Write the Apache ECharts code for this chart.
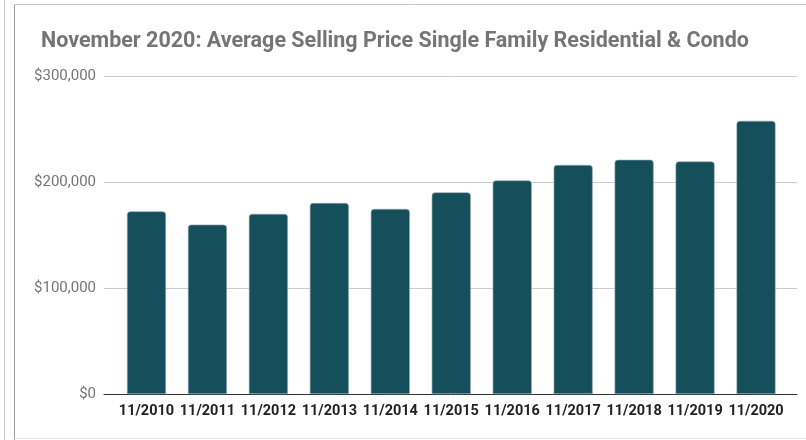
<!DOCTYPE html>
<html>
<head>
<meta charset="utf-8">
<script src="https://cdn.jsdelivr.net/npm/echarts@6/dist/echarts.min.js"></script>
<style>
  html, body { margin: 0; padding: 0; background: #fff; }
  #chart { width: 806px; height: 440px; }
</style>
</head>
<body>
<div id="chart"></div>
<script>
const categories = ['11/2010', '11/2011', '11/2012', '11/2013', '11/2014', '11/2015', '11/2016', '11/2017', '11/2018', '11/2019', '11/2020'];
const avgPrice = [172300, 159800, 169900, 180200, 174600, 190200, 201500, 216000, 221000, 219400, 257700];
const yTicks = [0, 100000, 200000, 300000];

const chart = echarts.init(document.getElementById('chart'));

// grid 0 carries the gridlines and base line, grid 1 (slightly inset) carries the bars
chart.setOption({
  backgroundColor: '#fff',
  animation: false,
  title: {
    text: 'November 2020: Average Selling Price Single Family Residential & Condo',
    left: 36,
    top: 26,
    textStyle: { fontFamily: 'Roboto', fontWeight: 'bold', fontSize: 21.5, color: '#757575' }
  },
  graphic: [
    { type: 'line', shape: { x1: 4.5, y1: 0, x2: 4.5, y2: 440 }, style: { stroke: '#cfcfcf', lineWidth: 1 } },
    { type: 'line', shape: { x1: 14.5, y1: 4.5, x2: 14.5, y2: 440 }, style: { stroke: '#9e9e9e', lineWidth: 1 } },
    { type: 'line', shape: { x1: 14.5, y1: 4.5, x2: 806, y2: 4.5 }, style: { stroke: '#c8c8c8', lineWidth: 1 } },
    { type: 'line', shape: { x1: 14.5, y1: 438.5, x2: 806, y2: 438.5 }, style: { stroke: '#e6e6e6', lineWidth: 1 } }
  ],
  grid: [
    { left: 104, right: 9, top: 76, bottom: 46 },
    { left: 116, right: 19.5, top: 76, bottom: 46 }
  ],
  xAxis: [
    {
      type: 'value',
      gridIndex: 0,
      min: 0,
      max: 1,
      axisTick: { show: false },
      axisLabel: { show: false },
      splitLine: { show: false },
      axisLine: { lineStyle: { color: '#333', width: 1 } }
    },
    {
      type: 'category',
      gridIndex: 1,
      data: categories,
      axisTick: { show: false },
      axisLine: { show: false },
      axisLabel: { interval: 0, fontFamily: 'Roboto', fontWeight: 'bold', fontSize: 14.5, color: '#222', margin: 10 }
    }
  ],
  yAxis: [
    {
      type: 'value',
      gridIndex: 0,
      min: yTicks[0],
      max: yTicks[yTicks.length - 1],
      interval: 100000,
      axisLine: { show: false },
      axisTick: { show: false },
      axisLabel: {
        fontFamily: 'Roboto', fontSize: 15, color: '#757575', margin: 8,
        formatter: (v) => '$' + v.toLocaleString('en-US')
      },
      splitLine: { lineStyle: { color: '#cccccc' } }
    },
    {
      type: 'value',
      gridIndex: 1,
      min: yTicks[0],
      max: yTicks[yTicks.length - 1],
      show: false
    }
  ],
  series: [
    {
      type: 'bar',
      xAxisIndex: 1,
      yAxisIndex: 1,
      data: avgPrice,
      barCategoryGap: '36%',
      itemStyle: {
        color: '#164f5c',
        borderColor: '#8fa9b0',
        borderWidth: 0.6,
        borderRadius: [3, 3, 0, 0]
      }
    }
  ]
});
</script>
</body>
</html>
